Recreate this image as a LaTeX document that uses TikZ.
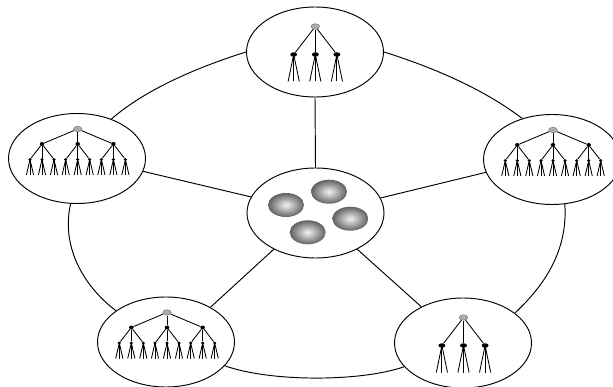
\documentclass[tikz,border=0pt]{standalone}
\usetikzlibrary{shapes.geometric}
\tikzset{
  hub/.style={draw=black,line width=0.95pt,ellipse,minimum width=137pt,minimum height=90pt,inner sep=0pt,fill=white},
  root/.style={ellipse,draw=gray!95,fill=gray!65,line width=0.6pt,minimum width=8.5pt,minimum height=5.5pt,inner sep=0pt},
  dotbig/.style={ellipse,fill=black,minimum width=7pt,minimum height=4.5pt,inner sep=0pt},
  dotsmall/.style={ellipse,fill=black,minimum width=4.5pt,minimum height=4pt,inner sep=0pt},
  link/.style={draw=black,line width=0.95pt},
  twig/.style={draw=black,line width=0.85pt},
  ball/.style={ellipse,minimum width=36pt,minimum height=24pt,inner sep=0pt,inner color=gray!10,outer color=black!62}
}
% three-level tree: #1 x of the root, #2 y of the root
\newcommand{\bigtree}[2]{%
  \begin{scope}[shift={(#1,#2)}]
    \node[root] (r) at (0,0) {};
    \foreach \i/\dx in {1/-35.7,2/0,3/35.7}{
      \node[dotsmall] (m\i) at (\dx,15) {};
      \draw[twig] (r) -- (m\i);
      \foreach \j/\ex in {1/-12,2/0,3/12}{
        \node[dotsmall,minimum width=3.5pt,minimum height=3pt] (k\i\j) at (\dx+\ex,30.5) {};
        \draw[twig] (m\i) -- (k\i\j);
        \foreach \l/\fx in {1/-3.6,2/0,3/3.6}{
          \coordinate (t\l) at (\dx+\ex+\fx,46);
          \draw[twig] (k\i\j.center) -- (t\l);
        }
      }
    }
  \end{scope}}
% two-level tree
\newcommand{\smalltree}[2]{%
  \begin{scope}[shift={(#1,#2)}]
    \node[root] (r) at (0,0) {};
    \foreach \i/\dx in {1/-21.6,2/0,3/21.6}{
      \node[dotbig] (m\i) at (\dx,28) {};
      \draw[twig] (r) -- (m\i);
      \foreach \l/\fx in {1/-5.6,2/0,3/5.6}{
        \coordinate (t\l) at (\dx+\fx,55);
        \draw[twig] (m\i.center) -- (t\l);
      }
    }
  \end{scope}}
\begin{document}
\begin{tikzpicture}[x=1pt,y=-1pt]
\useasboundingbox (0,0) rectangle (613,387);
\node[hub] (top) at (315,52) {};
\node[hub] (left) at (77,158.5) {};
\node[hub] (right) at (552,159.5) {};
\node[hub] (center) at (315.5,213) {};
\node[hub] (bl) at (166,342) {};
\node[hub] (br) at (463,343) {};
% spokes
\draw[link] (top.south) -- (center.north);
\draw[link] (left.-11) -- (center.166);
\draw[link] (right.-169) -- (center.13.5);
\draw[link] (bl.38.5) -- (center.-139);
\draw[link] (br.139) -- (center.-41);
% ring
\draw[link] (top.180) .. controls (195,68) and (145,90) .. (left.49);
\draw[link] (top.0) .. controls (435,68) and (485,90) .. (right.126);
\draw[link] (left.-98) .. controls (61,245) and (82,285) .. (bl.148);
\draw[link] (right.-74) .. controls (568,250) and (545,285) .. (br.30);
\draw[link] (bl.-22) .. controls (270,382) and (360,382) .. (br.-158);
% trees
\smalltree{315.3}{26.5}
\smalltree{463.5}{317.5}
\bigtree{77.7}{129}
\bigtree{553}{130}
\bigtree{167}{312.5}
% balls
\node[ball] (b1) at (329,191.7) {};
\node[ball] (b2) at (286,205) {};
\node[ball] (b3) at (350.3,218.7) {};
\node[ball] (b4) at (307.7,232.3) {};
\end{tikzpicture}
\end{document}
